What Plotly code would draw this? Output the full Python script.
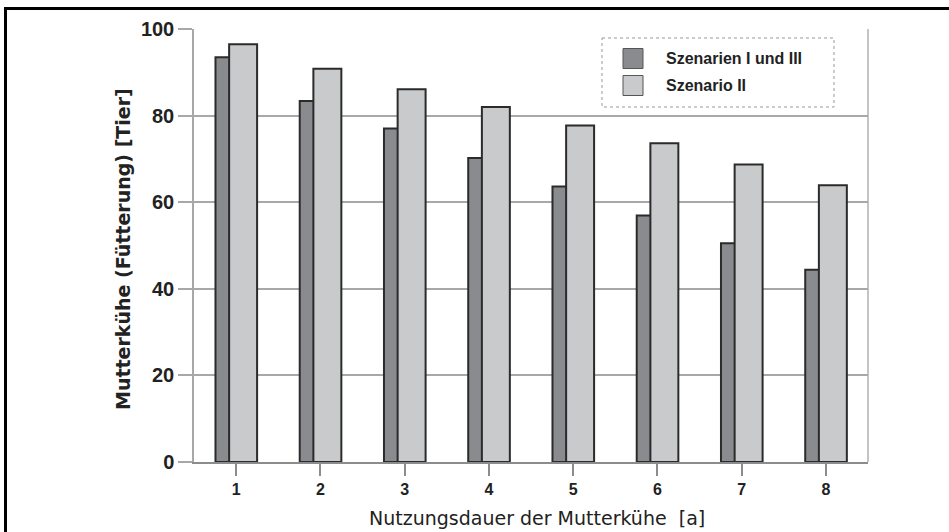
import plotly.graph_objects as go

categories = ["1", "2", "3", "4", "5", "6", "7", "8"]
series_names = ["Szenarien I und III", "Szenario II"]
values_s1_3 = [93.5, 83.4, 77.0, 70.2, 63.6, 56.9, 50.5, 44.4]
values_s2 = [96.5, 90.8, 86.1, 82.0, 77.7, 73.6, 68.7, 63.9]
y_ticks = [0, 20, 40, 60, 80, 100]

dark = "#8a8b8e"
light = "#c9cacc"
outline = "#2b2b2b"
FONT = "Liberation Sans, Arial, sans-serif"
WIDE = "DejaVu Sans, sans-serif"

W, H = 949, 532
L, R, T, B = 194, 868, 29, 462

def px(x):
    return (x - L) / (R - L)

def py(y):
    return (B - y) / (B - T)

fig = go.Figure()
fig.add_trace(go.Bar(x=categories, y=values_s1_3, name=series_names[0],
                     marker=dict(color=dark, line=dict(color=outline, width=2)),
                     width=0.332, offset=-0.245, showlegend=False))
fig.add_trace(go.Bar(x=categories, y=values_s2, name=series_names[1],
                     marker=dict(color=light, line=dict(color=outline, width=2)),
                     width=0.332, offset=-0.083, showlegend=False))

shapes = []
# outer frame (left and top)
shapes.append(dict(type="line", xref="paper", yref="paper", x0=px(5.5), x1=px(5.5),
                   y0=py(8.5), y1=py(540), line=dict(color="black", width=3)))
shapes.append(dict(type="line", xref="paper", yref="paper", x0=px(4), x1=px(960),
                   y0=py(8.5), y1=py(8.5), line=dict(color="black", width=3)))
# right plot border
shapes.append(dict(type="line", xref="paper", yref="paper", x0=1, x1=1, y0=0, y1=1,
                   line=dict(color="#c4c4c4", width=2), layer="below"))
# legend dotted box
shapes.append(dict(type="rect", xref="paper", yref="paper", x0=px(602), x1=px(834),
                   y0=py(38), y1=py(107), line=dict(color="#999999", width=1, dash="dot"),
                   fillcolor="white"))
# legend swatches
for c, yc in [(dark, 58.5), (light, 85.5)]:
    shapes.append(dict(type="rect", xref="paper", yref="paper", x0=px(623), x1=px(643),
                       y0=py(yc - 10), y1=py(yc + 10), fillcolor=c,
                       line=dict(color="#555555", width=1)))

annotations = []
for name, yc in zip(series_names, [58.5, 85.5]):
    annotations.append(dict(xref="paper", yref="paper", x=px(664), y=py(yc), text=name,
                            showarrow=False, xanchor="left", yanchor="middle",
                            font=dict(family=FONT, size=16, weight="bold", color="#222222")))
annotations.append(dict(xref="paper", yref="paper", x=px(537), y=py(518),
                        text="Nutzungsdauer der Mutterkühe  [a]", showarrow=False,
                        xanchor="center", yanchor="middle",
                        font=dict(family=WIDE, size=19, color="#222222")))
annotations.append(dict(xref="paper", yref="paper", x=px(123), y=py(249),
                        text="Mutterkühe (Fütterung) [Tier]", showarrow=False, textangle=-90,
                        xanchor="center", yanchor="middle",
                        font=dict(family=WIDE, size=19, weight="bold", color="#222222")))

fig.update_layout(
    width=W, height=H,
    margin=dict(l=L, r=W - R, t=T, b=H - B),
    paper_bgcolor="white", plot_bgcolor="white",
    barmode="overlay",
    showlegend=False,
    shapes=shapes,
    annotations=annotations,
    font=dict(family=FONT, color="#222222"),
    xaxis=dict(type="category", categoryorder="array", categoryarray=categories,
               showgrid=False, showline=True, linecolor="#8c8c8c", linewidth=2,
               ticks="outside", ticklen=12, tickcolor="#8c8c8c", tickwidth=1.5,
               tickfont=dict(family=FONT, size=16, weight="bold", color="#222222"),
               zeroline=False),
    yaxis=dict(range=[0, 100], tickvals=y_ticks, showgrid=True, gridcolor="#a8a8a8", gridwidth=1.5,
               showline=True, linecolor="#a8a8a8", linewidth=1.5,
               ticks="outside", ticklen=14, tickcolor="#a8a8a8", tickwidth=1.5,
               tickfont=dict(family=FONT, size=20, weight="bold", color="#222222"),
               zeroline=False),
)

fig.write_html("out.html", config={"displayModeBar": False},
               post_script="document.body.style.margin='0px';")
